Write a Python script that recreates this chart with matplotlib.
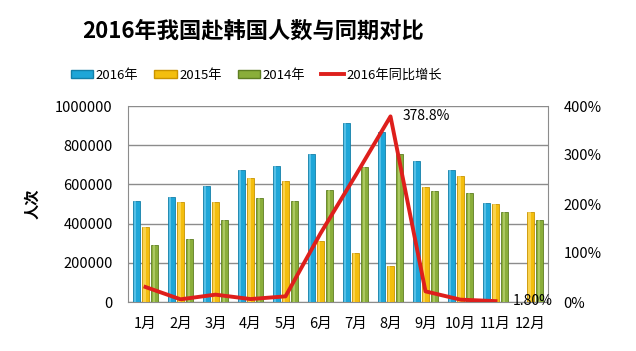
import matplotlib
matplotlib.use("Agg")
import matplotlib.pyplot as plt
import numpy as np
from matplotlib.patches import Patch
from matplotlib.lines import Line2D

plt.rcParams['font.family'] = ['Noto Sans CJK SC', 'DejaVu Sans']

months = ['1月', '2月', '3月', '4月', '5月', '6月', '7月', '8月', '9月', '10月', '11月', '12月']
v2016 = [516000, 538000, 593000, 674000, 694000, 754000, 912000, 869000, 720000, 674000, 504000, np.nan]
v2015 = [385000, 508000, 508000, 635000, 615000, 310000, 250000, 186000, 589000, 643000, 501000, 458000]
v2014 = [292000, 323000, 419000, 530000, 513000, 572000, 688000, 754000, 564000, 555000, 457000, 416000]
growth = [30.6, 5.5, 15.0, 6.0, 11.5, 140.0, 258.0, 378.8, 21.7, 4.8, 1.8]
series_names = ['2016年', '2015年', '2014年', '2016年同比增长']
yticks_left = [0, 200000, 400000, 600000, 800000, 1000000]
yticks_right = [0, 100, 200, 300, 400]

c_blue = '#1EA6D8'
c_yellow = '#F3BE0E'
c_green = '#8AAE3A'
c_red = '#DE1F1C'

fig = plt.figure(figsize=(6.36, 3.51), dpi=100)
fig.patch.set_facecolor('white')
ax = fig.add_axes([128/636, 1-302/351, 420/636, 196/351])

x = np.arange(len(months))
w = 0.2
off = 0.27
edge_kw = dict(linewidth=0.6)
ax.bar(x - off, v2016, w, color=c_blue, edgecolor='#137FA8', **edge_kw, zorder=3)
ax.bar(x, v2015, w, color=c_yellow, edgecolor='#C99300', **edge_kw, zorder=3)
ax.bar(x + off, v2014, w, color=c_green, edgecolor='#5E7E22', **edge_kw, zorder=3)
# highlight stripe to suggest cylinder
ax.bar(x - off - 0.03, v2016, w*0.3, color='#7DD3F2', linewidth=0, zorder=4, alpha=0.6)
ax.bar(x - 0.03, v2015, w*0.3, color='#FFE27A', linewidth=0, zorder=4, alpha=0.6)
ax.bar(x + off - 0.03, v2014, w*0.3, color='#C3DB7E', linewidth=0, zorder=4, alpha=0.6)

ax.set_xlim(-0.5, 11.5)
ax.set_ylim(0, 1000000)
ax.set_yticks(yticks_left)
ax.set_yticklabels([str(v) for v in yticks_left], fontsize=10.5)
ax.set_xticks(x)
ax.set_xticklabels(months, fontsize=10.5)
ax.tick_params(axis='y', length=0, pad=11)
ax.tick_params(axis='x', length=0, pad=11)
ax.grid(axis='y', color='#8C8C8C', linewidth=1.0, zorder=0)
for s in ['left', 'right', 'top', 'bottom']:
    ax.spines[s].set_color('#8C8C8C')
ax.spines['top'].set_visible(False)
ax.set_ylabel('人次', fontsize=11, fontweight='bold')
ax.yaxis.set_label_coords(-88/420, 0.5)

ax2 = ax.twinx()
ax2.set_position(ax.get_position())
ax2.plot(x[:len(growth)], growth, color=c_red, linewidth=2.8, zorder=5)
ax2.set_ylim(0, 400)
ax2.set_yticks(yticks_right)
ax2.set_yticklabels([f'{v}%' for v in yticks_right], fontsize=10.5)
ax2.tick_params(axis='y', length=0, pad=11)
for s in ['left', 'right', 'top', 'bottom']:
    ax2.spines[s].set_visible(False)

ax2.text(7.35, 378.8, '378.8%', fontsize=10, va='center', ha='left')
ax2.text(10.5, 1.8, '1.80%', fontsize=10, va='center', ha='left')

fig.text(0.398, 0.912, '2016年我国赴韩国人数与同期对比', fontsize=16, fontweight='bold',
         ha='center', va='center')

handles = [Patch(facecolor=c_blue, edgecolor='#137FA8'),
           Patch(facecolor=c_yellow, edgecolor='#C99300'),
           Patch(facecolor=c_green, edgecolor='#5E7E22'),
           Line2D([0], [0], color=c_red, linewidth=2.8)]
fig.legend(handles, series_names, loc='center', bbox_to_anchor=(0.403, 0.786), ncol=4,
           frameon=False, fontsize=9.5, handlelength=1.7, handleheight=0.55,
           columnspacing=1.2, handletextpad=0.2)

fig.savefig('out.png', dpi=100, facecolor='white')
